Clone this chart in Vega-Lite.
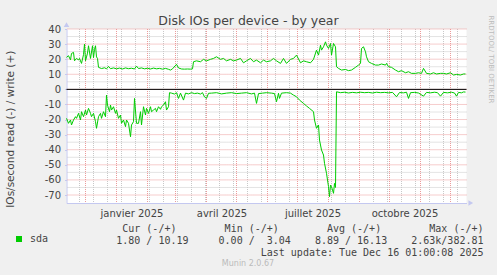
{
  "$schema": "https://vega.github.io/schema/vega-lite/v6.json",
  "width": 400,
  "height": 174,
  "autosize": {"type": "none"},
  "padding": {"left": 66.5, "top": 29, "right": 30.5, "bottom": 72},
  "background": "#F0F0F0",
  "title": {"text": "Munin 2.0.67", "orient": "bottom", "anchor": "middle", "frame": "group", "dx": -18.5, "offset": 3, "baseline": "top", "fontSize": 8, "fontWeight": "normal", "color": "#BBBBBB", "font": "DejaVu Sans"},
  "config": {
    "view": {"fill": "white", "stroke": null},
    "font": "DejaVu Sans",
    "axis": {"labelFont": "DejaVu Sans", "titleFont": "DejaVu Sans", "labelColor": "#444444", "titleColor": "#444444", "titleFontWeight": "normal"}
  },
  "datasets": {
    "months": [{"t": "2024-12-01"}, {"t": "2025-01-01"}, {"t": "2025-02-01"}, {"t": "2025-03-01"}, {"t": "2025-04-01"}, {"t": "2025-05-01"}, {"t": "2025-06-01"}, {"t": "2025-07-01"}, {"t": "2025-08-01"}, {"t": "2025-09-01"}, {"t": "2025-10-01"}, {"t": "2025-11-01"}, {"t": "2025-12-01"}],
    "weeks": [{"t": "2024-11-25"}, {"t": "2024-12-09"}, {"t": "2024-12-23"}, {"t": "2025-01-06"}, {"t": "2025-01-20"}, {"t": "2025-02-03"}, {"t": "2025-02-17"}, {"t": "2025-03-03"}, {"t": "2025-03-17"}, {"t": "2025-03-31"}, {"t": "2025-04-14"}, {"t": "2025-04-28"}, {"t": "2025-05-12"}, {"t": "2025-05-26"}, {"t": "2025-06-09"}, {"t": "2025-06-23"}, {"t": "2025-07-07"}, {"t": "2025-07-21"}, {"t": "2025-08-04"}, {"t": "2025-08-18"}, {"t": "2025-09-01"}, {"t": "2025-09-15"}, {"t": "2025-09-29"}, {"t": "2025-10-13"}, {"t": "2025-10-27"}, {"t": "2025-11-10"}, {"t": "2025-11-24"}, {"t": "2025-12-08"}],
    "tens": [{"v": -70}, {"v": -60}, {"v": -50}, {"v": -40}, {"v": -30}, {"v": -20}, {"v": -10}, {"v": 0}, {"v": 10}, {"v": 20}, {"v": 30}, {"v": 40}],
    "fives": [{"v": -65}, {"v": -55}, {"v": -45}, {"v": -35}, {"v": -25}, {"v": -15}, {"v": -5}, {"v": 5}, {"v": 15}, {"v": 25}, {"v": 35}],
    "io": [
      {"d": "2024-11-12", "v": 21.2, "dir": "write"}, {"d": "2024-11-14", "v": 22.3, "dir": "write"}, {"d": "2024-11-16", "v": 19.5, "dir": "write"}, {"d": "2024-11-17", "v": 23.8, "dir": "write"}, {"d": "2024-11-19", "v": 24.5, "dir": "write"}, {"d": "2024-11-20", "v": 18.9, "dir": "write"}, {"d": "2024-11-22", "v": 20.5, "dir": "write"}, {"d": "2024-11-24", "v": 19.5, "dir": "write"}, {"d": "2024-11-25", "v": 20.5, "dir": "write"}, {"d": "2024-11-27", "v": 17.2, "dir": "write"}, {"d": "2024-11-29", "v": 23, "dir": "write"}, {"d": "2024-11-30", "v": 30, "dir": "write"}, {"d": "2024-12-01", "v": 18.9, "dir": "write"}, {"d": "2024-12-03", "v": 24, "dir": "write"}, {"d": "2024-12-04", "v": 28.9, "dir": "write"}, {"d": "2024-12-06", "v": 20.5, "dir": "write"}, {"d": "2024-12-08", "v": 28.9, "dir": "write"}, {"d": "2024-12-09", "v": 21, "dir": "write"}, {"d": "2024-12-10", "v": 26.5, "dir": "write"}, {"d": "2024-12-11", "v": 28.9, "dir": "write"}, {"d": "2024-12-12", "v": 21.5, "dir": "write"}, {"d": "2024-12-13", "v": 20.5, "dir": "write"}, {"d": "2024-12-14", "v": 14.6, "dir": "write"}, {"d": "2024-12-17", "v": 13.8, "dir": "write"}, {"d": "2024-12-20", "v": 14.3, "dir": "write"}, {"d": "2024-12-22", "v": 13.6, "dir": "write"}, {"d": "2024-12-24", "v": 15.2, "dir": "write"}, {"d": "2024-12-26", "v": 13.7, "dir": "write"}, {"d": "2024-12-29", "v": 14.2, "dir": "write"},
      {"d": "2025-01-01", "v": 13.6, "dir": "write"}, {"d": "2025-01-04", "v": 14.1, "dir": "write"}, {"d": "2025-01-07", "v": 13.5, "dir": "write"}, {"d": "2025-01-10", "v": 14.2, "dir": "write"}, {"d": "2025-01-13", "v": 13.7, "dir": "write"}, {"d": "2025-01-16", "v": 14, "dir": "write"}, {"d": "2025-01-19", "v": 13.5, "dir": "write"}, {"d": "2025-01-21", "v": 15.4, "dir": "write"}, {"d": "2025-01-23", "v": 13.8, "dir": "write"}, {"d": "2025-01-26", "v": 14.2, "dir": "write"}, {"d": "2025-01-29", "v": 13.6, "dir": "write"}, {"d": "2025-02-01", "v": 14, "dir": "write"}, {"d": "2025-02-04", "v": 13.5, "dir": "write"}, {"d": "2025-02-07", "v": 14.1, "dir": "write"}, {"d": "2025-02-10", "v": 13.6, "dir": "write"}, {"d": "2025-02-13", "v": 13.9, "dir": "write"}, {"d": "2025-02-16", "v": 13.4, "dir": "write"}, {"d": "2025-02-19", "v": 13.9, "dir": "write"}, {"d": "2025-02-22", "v": 13.3, "dir": "write"}, {"d": "2025-02-24", "v": 12.8, "dir": "write"}, {"d": "2025-02-26", "v": 13.6, "dir": "write"}, {"d": "2025-03-02", "v": 16.6, "dir": "write"}, {"d": "2025-03-04", "v": 14.2, "dir": "write"}, {"d": "2025-03-07", "v": 13.5, "dir": "write"}, {"d": "2025-03-10", "v": 13.4, "dir": "write"}, {"d": "2025-03-13", "v": 13.5, "dir": "write"}, {"d": "2025-03-16", "v": 13.4, "dir": "write"}, {"d": "2025-03-18", "v": 13.6, "dir": "write"},
      {"d": "2025-03-19", "v": 18.3, "dir": "write"}, {"d": "2025-03-22", "v": 18.9, "dir": "write"}, {"d": "2025-03-26", "v": 18.3, "dir": "write"}, {"d": "2025-03-29", "v": 19.9, "dir": "write"}, {"d": "2025-04-01", "v": 18.9, "dir": "write"}, {"d": "2025-04-05", "v": 19.9, "dir": "write"}, {"d": "2025-04-08", "v": 20.5, "dir": "write"}, {"d": "2025-04-11", "v": 21.6, "dir": "write"}, {"d": "2025-04-15", "v": 19.9, "dir": "write"}, {"d": "2025-04-18", "v": 20.5, "dir": "write"}, {"d": "2025-04-21", "v": 18.9, "dir": "write"}, {"d": "2025-04-25", "v": 19.9, "dir": "write"}, {"d": "2025-04-28", "v": 18.9, "dir": "write"}, {"d": "2025-05-01", "v": 19.4, "dir": "write"}, {"d": "2025-05-05", "v": 20.5, "dir": "write"}, {"d": "2025-05-08", "v": 17.6, "dir": "write"}, {"d": "2025-05-11", "v": 18.9, "dir": "write"}, {"d": "2025-05-15", "v": 20.5, "dir": "write"}, {"d": "2025-05-18", "v": 18.3, "dir": "write"}, {"d": "2025-05-21", "v": 19.4, "dir": "write"}, {"d": "2025-05-25", "v": 17.6, "dir": "write"}, {"d": "2025-05-28", "v": 19.4, "dir": "write"}, {"d": "2025-05-31", "v": 18.3, "dir": "write"}, {"d": "2025-06-04", "v": 18.9, "dir": "write"}, {"d": "2025-06-07", "v": 20.5, "dir": "write"}, {"d": "2025-06-10", "v": 18.9, "dir": "write"}, {"d": "2025-06-14", "v": 17.2, "dir": "write"}, {"d": "2025-06-17", "v": 20.5, "dir": "write"}, {"d": "2025-06-20", "v": 17.2, "dir": "write"}, {"d": "2025-06-24", "v": 19.9, "dir": "write"}, {"d": "2025-06-27", "v": 20.5, "dir": "write"}, {"d": "2025-06-30", "v": 22.7, "dir": "write"},
      {"d": "2025-07-04", "v": 17.6, "dir": "write"}, {"d": "2025-07-07", "v": 18.9, "dir": "write"}, {"d": "2025-07-10", "v": 18.3, "dir": "write"}, {"d": "2025-07-14", "v": 17.6, "dir": "write"}, {"d": "2025-07-17", "v": 19.9, "dir": "write"}, {"d": "2025-07-20", "v": 26, "dir": "write"}, {"d": "2025-07-22", "v": 22.7, "dir": "write"}, {"d": "2025-07-24", "v": 29.3, "dir": "write"}, {"d": "2025-07-25", "v": 26, "dir": "write"}, {"d": "2025-07-27", "v": 28.2, "dir": "write"}, {"d": "2025-07-29", "v": 31.5, "dir": "write"}, {"d": "2025-07-30", "v": 29.3, "dir": "write"}, {"d": "2025-08-01", "v": 27.1, "dir": "write"}, {"d": "2025-08-03", "v": 30.4, "dir": "write"}, {"d": "2025-08-04", "v": 22.7, "dir": "write"}, {"d": "2025-08-06", "v": 30.4, "dir": "write"}, {"d": "2025-08-08", "v": 28.2, "dir": "write"}, {"d": "2025-08-09", "v": 15, "dir": "write"}, {"d": "2025-08-11", "v": 13.9, "dir": "write"}, {"d": "2025-08-14", "v": 12.8, "dir": "write"}, {"d": "2025-08-18", "v": 13.2, "dir": "write"}, {"d": "2025-08-21", "v": 12.4, "dir": "write"}, {"d": "2025-08-24", "v": 12.8, "dir": "write"}, {"d": "2025-08-28", "v": 14.6, "dir": "write"}, {"d": "2025-08-31", "v": 16.1, "dir": "write"}, {"d": "2025-09-02", "v": 17.2, "dir": "write"}, {"d": "2025-09-03", "v": 27.1, "dir": "write"}, {"d": "2025-09-05", "v": 28.2, "dir": "write"}, {"d": "2025-09-07", "v": 24.9, "dir": "write"}, {"d": "2025-09-08", "v": 21.6, "dir": "write"}, {"d": "2025-09-10", "v": 18.3, "dir": "write"}, {"d": "2025-09-13", "v": 17.2, "dir": "write"}, {"d": "2025-09-17", "v": 16.1, "dir": "write"}, {"d": "2025-09-20", "v": 16.1, "dir": "write"}, {"d": "2025-09-23", "v": 16.8, "dir": "write"}, {"d": "2025-09-27", "v": 16.1, "dir": "write"}, {"d": "2025-09-28", "v": 17.2, "dir": "write"}, {"d": "2025-09-30", "v": 15, "dir": "write"},
      {"d": "2025-10-03", "v": 14.6, "dir": "write"}, {"d": "2025-10-07", "v": 12.8, "dir": "write"}, {"d": "2025-10-10", "v": 11.7, "dir": "write"}, {"d": "2025-10-13", "v": 12.4, "dir": "write"}, {"d": "2025-10-17", "v": 11, "dir": "write"}, {"d": "2025-10-20", "v": 11.7, "dir": "write"}, {"d": "2025-10-23", "v": 10.6, "dir": "write"}, {"d": "2025-10-27", "v": 10.6, "dir": "write"}, {"d": "2025-10-30", "v": 11, "dir": "write"}, {"d": "2025-11-02", "v": 10.6, "dir": "write"}, {"d": "2025-11-04", "v": 13.9, "dir": "write"}, {"d": "2025-11-07", "v": 10.6, "dir": "write"}, {"d": "2025-11-11", "v": 10.2, "dir": "write"}, {"d": "2025-11-14", "v": 11, "dir": "write"}, {"d": "2025-11-17", "v": 10.2, "dir": "write"}, {"d": "2025-11-21", "v": 10.6, "dir": "write"}, {"d": "2025-11-24", "v": 10.6, "dir": "write"}, {"d": "2025-11-27", "v": 10.2, "dir": "write"}, {"d": "2025-12-01", "v": 11, "dir": "write"}, {"d": "2025-12-04", "v": 9.5, "dir": "write"}, {"d": "2025-12-07", "v": 9.9, "dir": "write"}, {"d": "2025-12-11", "v": 9.5, "dir": "write"}, {"d": "2025-12-14", "v": 10.2, "dir": "write"}, {"d": "2025-12-16", "v": 10.2, "dir": "write"},
      {"d": "2024-11-12", "v": -19.2, "dir": "read"}, {"d": "2024-11-14", "v": -22.5, "dir": "read"}, {"d": "2024-11-16", "v": -20.3, "dir": "read"}, {"d": "2024-11-17", "v": -23.6, "dir": "read"}, {"d": "2024-11-19", "v": -20.3, "dir": "read"}, {"d": "2024-11-21", "v": -18.1, "dir": "read"}, {"d": "2024-11-22", "v": -19.2, "dir": "read"}, {"d": "2024-11-24", "v": -15.9, "dir": "read"}, {"d": "2024-11-26", "v": -20.3, "dir": "read"}, {"d": "2024-11-27", "v": -14.8, "dir": "read"}, {"d": "2024-11-29", "v": -18.1, "dir": "read"}, {"d": "2024-12-01", "v": -13.7, "dir": "read"}, {"d": "2024-12-02", "v": -17, "dir": "read"}, {"d": "2024-12-04", "v": -12.6, "dir": "read"}, {"d": "2024-12-06", "v": -15.9, "dir": "read"}, {"d": "2024-12-07", "v": -18.1, "dir": "read"}, {"d": "2024-12-09", "v": -15.9, "dir": "read"}, {"d": "2024-12-11", "v": -21.4, "dir": "read"}, {"d": "2024-12-12", "v": -25.8, "dir": "read"}, {"d": "2024-12-14", "v": -18.1, "dir": "read"}, {"d": "2024-12-16", "v": -15.9, "dir": "read"}, {"d": "2024-12-17", "v": -19.2, "dir": "read"}, {"d": "2024-12-19", "v": -14.8, "dir": "read"}, {"d": "2024-12-21", "v": -18.1, "dir": "read"}, {"d": "2024-12-22", "v": -3.8, "dir": "read"}, {"d": "2024-12-23", "v": -10.4, "dir": "read"}, {"d": "2024-12-25", "v": -14.8, "dir": "read"}, {"d": "2024-12-26", "v": -10.4, "dir": "read"}, {"d": "2024-12-27", "v": -13.7, "dir": "read"}, {"d": "2024-12-29", "v": -11.5, "dir": "read"}, {"d": "2024-12-31", "v": -15.9, "dir": "read"},
      {"d": "2025-01-01", "v": -13.7, "dir": "read"}, {"d": "2025-01-03", "v": -19.2, "dir": "read"}, {"d": "2025-01-05", "v": -17, "dir": "read"}, {"d": "2025-01-06", "v": -22.5, "dir": "read"}, {"d": "2025-01-08", "v": -20.3, "dir": "read"}, {"d": "2025-01-10", "v": -24.7, "dir": "read"}, {"d": "2025-01-11", "v": -20.3, "dir": "read"}, {"d": "2025-01-13", "v": -22.5, "dir": "read"}, {"d": "2025-01-15", "v": -31.4, "dir": "read"}, {"d": "2025-01-16", "v": -23.6, "dir": "read"}, {"d": "2025-01-18", "v": -21.4, "dir": "read"}, {"d": "2025-01-19", "v": -6, "dir": "read"}, {"d": "2025-01-21", "v": -22.5, "dir": "read"}, {"d": "2025-01-23", "v": -22.5, "dir": "read"}, {"d": "2025-01-25", "v": -14.8, "dir": "read"}, {"d": "2025-01-26", "v": -23.6, "dir": "read"}, {"d": "2025-01-28", "v": -11.5, "dir": "read"}, {"d": "2025-01-30", "v": -17, "dir": "read"}, {"d": "2025-01-31", "v": -12.6, "dir": "read"}, {"d": "2025-02-02", "v": -15.9, "dir": "read"}, {"d": "2025-02-04", "v": -11.5, "dir": "read"}, {"d": "2025-02-05", "v": -14.8, "dir": "read"}, {"d": "2025-02-07", "v": -13.7, "dir": "read"}, {"d": "2025-02-09", "v": -12.6, "dir": "read"}, {"d": "2025-02-10", "v": -14.8, "dir": "read"}, {"d": "2025-02-12", "v": -11.5, "dir": "read"}, {"d": "2025-02-14", "v": -13.2, "dir": "read"}, {"d": "2025-02-15", "v": -11.5, "dir": "read"}, {"d": "2025-02-17", "v": -10.4, "dir": "read"}, {"d": "2025-02-19", "v": -8.2, "dir": "read"}, {"d": "2025-02-20", "v": -13.7, "dir": "read"}, {"d": "2025-02-22", "v": -11.5, "dir": "read"},
      {"d": "2025-02-23", "v": -2.2, "dir": "read"}, {"d": "2025-02-25", "v": -2.5, "dir": "read"}, {"d": "2025-02-28", "v": -3.1, "dir": "read"}, {"d": "2025-03-02", "v": -2.2, "dir": "read"}, {"d": "2025-03-04", "v": -6, "dir": "read"}, {"d": "2025-03-06", "v": -2.5, "dir": "read"}, {"d": "2025-03-09", "v": -7.1, "dir": "read"}, {"d": "2025-03-11", "v": -2.5, "dir": "read"}, {"d": "2025-03-14", "v": -3, "dir": "read"}, {"d": "2025-03-17", "v": -2.2, "dir": "read"}, {"d": "2025-03-20", "v": -2.8, "dir": "read"}, {"d": "2025-03-23", "v": -2.5, "dir": "read"}, {"d": "2025-03-26", "v": -3.1, "dir": "read"}, {"d": "2025-03-28", "v": -2.2, "dir": "read"}, {"d": "2025-03-30", "v": -5, "dir": "read"}, {"d": "2025-04-01", "v": -6, "dir": "read"}, {"d": "2025-04-03", "v": -2.6, "dir": "read"}, {"d": "2025-04-06", "v": -2.5, "dir": "read"}, {"d": "2025-04-11", "v": -2.2, "dir": "read"}, {"d": "2025-04-16", "v": -3, "dir": "read"}, {"d": "2025-04-21", "v": -2.5, "dir": "read"}, {"d": "2025-04-26", "v": -2.2, "dir": "read"}, {"d": "2025-05-01", "v": -2.8, "dir": "read"}, {"d": "2025-05-06", "v": -2.5, "dir": "read"}, {"d": "2025-05-11", "v": -2.2, "dir": "read"}, {"d": "2025-05-16", "v": -3, "dir": "read"}, {"d": "2025-05-19", "v": -2.5, "dir": "read"}, {"d": "2025-05-21", "v": -9.3, "dir": "read"}, {"d": "2025-05-23", "v": -2.8, "dir": "read"}, {"d": "2025-05-27", "v": -2.5, "dir": "read"}, {"d": "2025-05-31", "v": -2.2, "dir": "read"}, {"d": "2025-06-05", "v": -2.5, "dir": "read"}, {"d": "2025-06-08", "v": -2.8, "dir": "read"}, {"d": "2025-06-10", "v": -8.2, "dir": "read"}, {"d": "2025-06-12", "v": -2.6, "dir": "read"}, {"d": "2025-06-13", "v": -6, "dir": "read"}, {"d": "2025-06-15", "v": -2.5, "dir": "read"}, {"d": "2025-06-20", "v": -2.2, "dir": "read"}, {"d": "2025-06-24", "v": -2.5, "dir": "read"}, {"d": "2025-06-27", "v": -3.8, "dir": "read"}, {"d": "2025-06-30", "v": -4.9, "dir": "read"},
      {"d": "2025-07-03", "v": -7.1, "dir": "read"}, {"d": "2025-07-07", "v": -9.3, "dir": "read"}, {"d": "2025-07-10", "v": -11, "dir": "read"}, {"d": "2025-07-13", "v": -12.6, "dir": "read"}, {"d": "2025-07-17", "v": -14.8, "dir": "read"}, {"d": "2025-07-18", "v": -20.3, "dir": "read"}, {"d": "2025-07-20", "v": -25.8, "dir": "read"}, {"d": "2025-07-22", "v": -23.6, "dir": "read"}, {"d": "2025-07-23", "v": -33.6, "dir": "read"}, {"d": "2025-07-25", "v": -40.2, "dir": "read"}, {"d": "2025-07-27", "v": -43.5, "dir": "read"}, {"d": "2025-07-28", "v": -49, "dir": "read"}, {"d": "2025-07-30", "v": -55.6, "dir": "read"}, {"d": "2025-08-01", "v": -64.5, "dir": "read"}, {"d": "2025-08-02", "v": -71.1, "dir": "read"}, {"d": "2025-08-03", "v": -63.4, "dir": "read"}, {"d": "2025-08-04", "v": -64.5, "dir": "read"}, {"d": "2025-08-06", "v": -68.9, "dir": "read"}, {"d": "2025-08-07", "v": -62.3, "dir": "read"}, {"d": "2025-08-08", "v": -65, "dir": "read"}, {"d": "2025-08-09", "v": -1.6, "dir": "read"}, {"d": "2025-08-13", "v": -2.2, "dir": "read"}, {"d": "2025-08-17", "v": -1.9, "dir": "read"}, {"d": "2025-08-21", "v": -2.4, "dir": "read"}, {"d": "2025-08-25", "v": -2, "dir": "read"}, {"d": "2025-08-29", "v": -2.3, "dir": "read"}, {"d": "2025-09-02", "v": -1.9, "dir": "read"}, {"d": "2025-09-06", "v": -2.2, "dir": "read"}, {"d": "2025-09-10", "v": -2, "dir": "read"}, {"d": "2025-09-14", "v": -2.4, "dir": "read"}, {"d": "2025-09-18", "v": -1.9, "dir": "read"}, {"d": "2025-09-22", "v": -2.2, "dir": "read"}, {"d": "2025-09-26", "v": -2, "dir": "read"}, {"d": "2025-09-30", "v": -2.3, "dir": "read"}, {"d": "2025-10-04", "v": -2, "dir": "read"}, {"d": "2025-10-08", "v": -4.9, "dir": "read"}, {"d": "2025-10-11", "v": -2.1, "dir": "read"}, {"d": "2025-10-15", "v": -2.3, "dir": "read"}, {"d": "2025-10-18", "v": -1.9, "dir": "read"}, {"d": "2025-10-20", "v": -6, "dir": "read"}, {"d": "2025-10-22", "v": -2.2, "dir": "read"}, {"d": "2025-10-26", "v": -2, "dir": "read"}, {"d": "2025-10-30", "v": -2.4, "dir": "read"}, {"d": "2025-11-04", "v": -4.5, "dir": "read"}, {"d": "2025-11-07", "v": -2, "dir": "read"}, {"d": "2025-11-11", "v": -2.3, "dir": "read"}, {"d": "2025-11-15", "v": -1.9, "dir": "read"}, {"d": "2025-11-18", "v": -2.2, "dir": "read"}, {"d": "2025-11-21", "v": -4.5, "dir": "read"}, {"d": "2025-11-24", "v": -2, "dir": "read"}, {"d": "2025-11-28", "v": -2.3, "dir": "read"}, {"d": "2025-12-02", "v": -1.9, "dir": "read"}, {"d": "2025-12-05", "v": -2.4, "dir": "read"}, {"d": "2025-12-07", "v": -4.5, "dir": "read"}, {"d": "2025-12-09", "v": -2, "dir": "read"}, {"d": "2025-12-12", "v": -2.3, "dir": "read"}, {"d": "2025-12-14", "v": -1.7, "dir": "read"}, {"d": "2025-12-16", "v": -1.8, "dir": "read"}
    ]
  },
  "resolve": {"axis": {"x": "independent", "y": "independent"}},
  "layer": [
    {
      "data": {"name": "weeks"},
      "mark": {"type": "rule", "color": "#C8C8C8", "strokeWidth": 1, "strokeDash": [1, 1]},
      "encoding": {
        "x": {"field": "t", "type": "temporal", "scale": {"domain": [{"year": 2024, "month": 11, "date": 12, "utc": true}, {"year": 2025, "month": 12, "date": 17, "utc": true}], "nice": false}, "axis": null}
      }
    },
    {
      "data": {"name": "months"},
      "mark": {"type": "rule", "color": "#EC9A9A", "strokeWidth": 1, "strokeDash": [1, 1]},
      "encoding": {
        "x": {"field": "t", "type": "temporal", "scale": {"domain": [{"year": 2024, "month": 11, "date": 12, "utc": true}, {"year": 2025, "month": 12, "date": 17, "utc": true}], "nice": false},
          "axis": {"orient": "top", "labels": false, "ticks": false, "domain": false, "grid": false, "title": "Disk IOs per device - by year", "titleX": 181.5, "titleY": -5, "titleAlign": "center", "titleBaseline": "alphabetic", "titleFontSize": 12.5, "titleFontWeight": "normal", "titleColor": "#444444"}}
      }
    },
    {
      "data": {"name": "fives"},
      "mark": {"type": "rule", "color": "#C8C8C8", "strokeWidth": 1, "strokeDash": [1, 1]},
      "encoding": {
        "y": {"field": "v", "type": "quantitative", "scale": {"domain": [-75.3, 40], "nice": false, "zero": false}, "axis": null}
      }
    },
    {
      "data": {"name": "tens"},
      "mark": {"type": "rule", "color": "#EC9A9A", "strokeWidth": 1, "strokeDash": [1, 1]},
      "encoding": {
        "y": {"field": "v", "type": "quantitative", "scale": {"domain": [-75.3, 40], "nice": false, "zero": false},
          "axis": {"orient": "right", "labels": false, "ticks": false, "domain": false, "grid": false, "title": "RRDTOOL/ TOBI OETIKER", "titleX": 23.5, "titleY": -14, "titleAngle": 90, "titleAlign": "left", "titleBaseline": "middle", "titleFontSize": 7, "titleColor": "#BBBBBB", "titleFontWeight": "normal"}}
      }
    },
    {
      "data": {"name": "io"},
      "mark": {"type": "line", "strokeWidth": 1},
      "encoding": {
        "x": {"field": "d", "type": "temporal", "scale": {"domain": [{"year": 2024, "month": 11, "date": 12, "utc": true}, {"year": 2025, "month": 12, "date": 17, "utc": true}], "nice": false},
          "axis": {"orient": "bottom", "values": [{"year": 2025, "month": 1, "date": 16, "utc": true}, {"year": 2025, "month": 4, "date": 16, "utc": true}, {"year": 2025, "month": 7, "date": 16, "utc": true}, {"year": 2025, "month": 10, "date": 16, "utc": true}],
            "labelExpr": "(utcmonth(datum.value) == 0 ? 'janvier' : utcmonth(datum.value) == 3 ? 'avril' : utcmonth(datum.value) == 6 ? 'juillet' : 'octobre') + ' ' + utcyear(datum.value)",
            "labelFontSize": 10, "labelColor": "#444444", "labelPadding": 5, "labelFlush": false, "labelOverlap": false, "ticks": false, "tickSize": 0, "grid": false, "domainColor": "#C4C8F0",
            "title": ["Cur (-/+)\u00a0\u00a0\u00a0\u00a0\u00a0\u00a0\u00a0\u00a0Min (-/+)\u00a0\u00a0\u00a0\u00a0\u00a0\u00a0\u00a0\u00a0Avg (-/+)\u00a0\u00a0\u00a0\u00a0\u00a0\u00a0\u00a0\u00a0Max (-/+)\u00a0", "1.80 / 10.19\u00a0\u00a0\u00a0\u00a0\u00a00.00 /\u00a0\u00a03.04\u00a0\u00a0\u00a0\u00a08.89 / 16.13\u00a0\u00a0\u00a0\u00a02.63k/382.81\u00a0", "Last update: Tue Dec 16 01:00:08 2025"],
            "titleX": 416.5, "titleY": 28, "titleAlign": "right", "titleBaseline": "alphabetic", "titleFont": "DejaVu Sans Mono", "titleFontSize": 10, "titleFontWeight": "normal", "titleColor": "#444444", "titleLineHeight": 12}},
        "y": {"field": "v", "type": "quantitative", "scale": {"domain": [-75.3, 40], "nice": false, "zero": false},
          "axis": {"orient": "left", "values": [-70, -60, -50, -40, -30, -20, -10, 0, 10, 20, 30, 40], "labelExpr": "'' + datum.value", "labelFontSize": 10, "labelColor": "#444444", "tickSize": 2, "tickColor": "#C4C8F0", "labelPadding": 4, "grid": false, "domainColor": "#C4C8F0",
            "title": "IOs/second read (-) / write (+)", "titleX": -56.5, "titleY": 99.7, "titleAngle": 270, "titleAlign": "center", "titleBaseline": "middle", "titleFontSize": 10.5, "titleFontWeight": "normal", "titleColor": "#444444"}},
        "detail": {"field": "dir", "type": "nominal"},
        "color": {"datum": "sda", "type": "nominal", "scale": {"range": ["#00CC00"]},
          "legend": {"title": null, "orient": "none", "legendX": -52.5, "legendY": 205, "symbolType": "square", "symbolSize": 36, "symbolFillColor": "#00CC00", "symbolStrokeColor": "#00CC00", "symbolStrokeWidth": 0, "labelFont": "DejaVu Sans Mono", "labelFontSize": 10, "labelColor": "#444444", "labelOffset": 6, "padding": 0}}
      }
    },
    {
      "data": {"values": [{}]},
      "mark": {"type": "rule", "color": "#000000", "strokeWidth": 1},
      "encoding": {
        "y": {"datum": 0, "type": "quantitative", "scale": {"domain": [-75.3, 40], "nice": false, "zero": false}, "axis": null}
      }
    },
    {
      "data": {"values": [{}]},
      "mark": {"type": "point", "shape": "triangle-up", "filled": true, "color": "#C4C8F0", "size": 30, "opacity": 1},
      "encoding": {
        "x": {"datum": {"year": 2024, "month": 11, "date": 12, "utc": true}, "type": "temporal", "scale": {"domain": [{"year": 2024, "month": 11, "date": 12, "utc": true}, {"year": 2025, "month": 12, "date": 17, "utc": true}], "nice": false}, "axis": null},
        "y": {"datum": 42.9, "type": "quantitative", "scale": {"domain": [-75.3, 40], "nice": false, "zero": false}, "axis": null}
      }
    },
    {
      "data": {"values": [{}]},
      "mark": {"type": "point", "shape": "triangle-right", "filled": true, "color": "#C4C8F0", "size": 30, "opacity": 1},
      "encoding": {
        "x": {"datum": {"year": 2025, "month": 12, "date": 21, "hours": 7, "utc": true}, "type": "temporal", "scale": {"domain": [{"year": 2024, "month": 11, "date": 12, "utc": true}, {"year": 2025, "month": 12, "date": 17, "utc": true}], "nice": false}, "axis": null},
        "y": {"datum": -75.3, "type": "quantitative", "scale": {"domain": [-75.3, 40], "nice": false, "zero": false}, "axis": null}
      }
    }
  ]
}
